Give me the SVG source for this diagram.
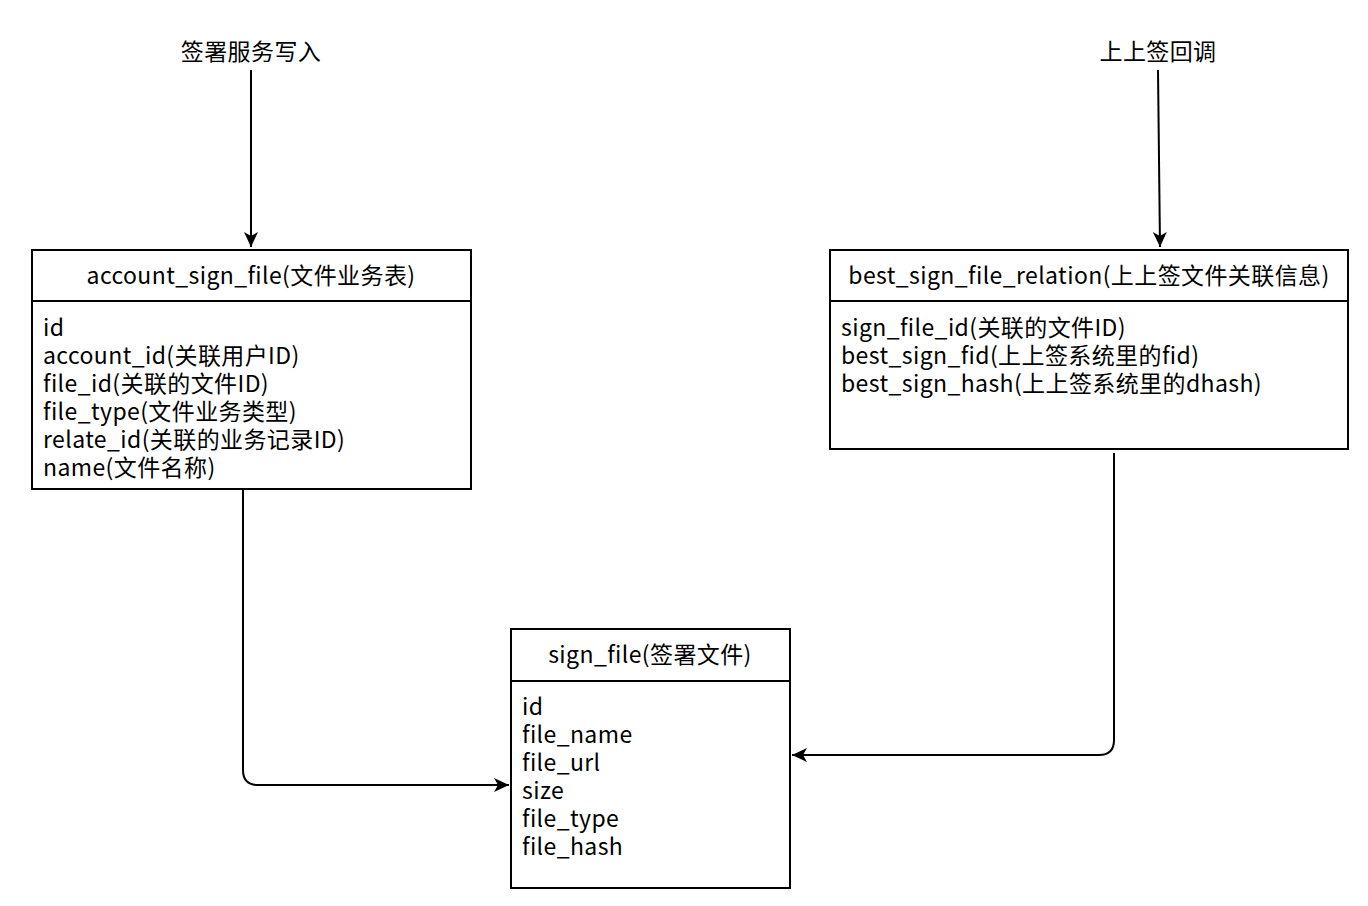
<svg xmlns="http://www.w3.org/2000/svg" width="1368" height="906" viewBox="0 0 1368 906">
<style>
text{font-family:"Noto Sans CJK SC","Noto Sans",sans-serif;font-size:23px;letter-spacing:0.4px;fill:#000}
.t{text-anchor:middle}
.box{fill:#fff;stroke:#000;stroke-width:2}
.c{fill:none;stroke:#000;stroke-width:2}
</style>
<defs>
<marker id="b" markerWidth="16" markerHeight="16" refX="15" refY="7" orient="auto" markerUnits="userSpaceOnUse"><path d="M0,0 L15,7 L0,14 L4,7Z" fill="#000"/></marker></defs>
<rect width="1368" height="906" fill="#fff"/>
<g id="connectors">
<path class="c" d="M251,70 V247" marker-end="url(#b)"/>
<path class="c" d="M1158,70 L1160,247" marker-end="url(#b)"/>
<path class="c" d="M243,487 V770 Q243,785 258,785 H509" marker-end="url(#b)"/>
<path class="c" d="M1114,453 V740 Q1114,755 1099,755 H792" marker-end="url(#b)"/>
</g>
<g id="label1"><text class="t" x="251" y="60">签署服务写入</text></g>
<g id="label2"><text class="t" x="1158" y="60">上上签回调</text></g>
<g id="account_sign_file">
<rect class="box" x="32" y="250" width="439" height="239"/><line class="box" x1="32" y1="301" x2="471" y2="301"/>
<text class="t" x="251" y="284">account_sign_file(文件业务表)</text>
<text x="43" y="336">id</text><text x="43" y="364">account_id(关联用户ID)</text><text x="43" y="392">file_id(关联的文件ID)</text><text x="43" y="420">file_type(文件业务类型)</text><text x="43" y="448">relate_id(关联的业务记录ID)</text><text x="43" y="476">name(文件名称)</text>
</g>
<g id="best_sign_file_relation">
<rect class="box" x="830" y="250" width="518" height="199"/><line class="box" x1="830" y1="301" x2="1348" y2="301"/>
<text class="t" x="1089" y="284">best_sign_file_relation(上上签文件关联信息)</text>
<text x="841" y="336">sign_file_id(关联的文件ID)</text><text x="841" y="364">best_sign_fid(上上签系统里的fid)</text><text x="841" y="392">best_sign_hash(上上签系统里的dhash)</text>
</g>
<g id="sign_file">
<rect class="box" x="511" y="629" width="279" height="259"/><line class="box" x1="511" y1="681" x2="790" y2="681"/>
<text class="t" x="650" y="663">sign_file(签署文件)</text>
<text x="522" y="715">id</text><text x="522" y="743">file_name</text><text x="522" y="771">file_url</text><text x="522" y="799">size</text><text x="522" y="827">file_type</text><text x="522" y="855">file_hash</text>
</g>
</svg>
